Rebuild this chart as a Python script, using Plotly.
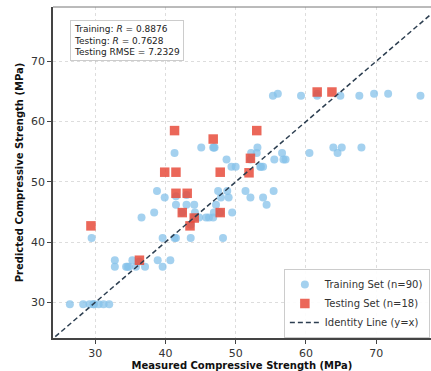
import plotly.graph_objects as go

# Training set (measured, predicted)
train_measured = [
    26.4, 28.3, 29.2, 29.8, 30.5, 31.2, 32.0,
    32.8, 35.3, 38.9, 40.7,
    32.8, 34.4, 34.8, 35.8, 37.1, 39.6,
    29.5, 39.6, 41.3, 41.5, 43.6, 48.2,
    36.6, 38.4,
    44.8, 45.8, 46.2, 46.8,
    44.2, 46.9, 49.5,
    41.5, 43.0, 44.1, 47.2, 54.4,
    39.9, 47.9, 49.0, 52.1, 53.9,
    38.8, 47.5, 48.8, 51.4, 55.4,
    49.4, 50.0, 53.5, 53.9,
    48.7, 55.5, 56.8, 57.1,
    41.3, 52.2, 53.0, 56.6, 60.5, 64.5,
    45.1, 46.8, 47.0, 53.1, 63.9, 65.1, 67.9,
    55.3, 56.0, 59.3, 61.6, 64.9, 67.6, 69.7, 71.7, 76.3,
    41.5, 43.0, 47.8, 52.1, 36.3, 44.1, 42.4, 43.6, 61.6,
    29.8, 34.6, 53.6, 46.9,
]
train_predicted = [
    29.7, 29.7, 29.7, 29.7, 29.7, 29.7, 29.7,
    37.0, 37.0, 37.0, 37.0,
    35.9, 35.9, 35.9, 35.9, 35.9, 35.9,
    40.7, 40.7, 40.7, 40.7, 40.7, 40.7,
    44.1, 44.9,
    44.1, 44.1, 44.1, 44.1,
    44.9, 44.9, 44.9,
    46.2, 46.2, 46.2, 46.2, 46.2,
    47.4, 47.4, 47.4, 47.4, 47.4,
    48.5, 48.5, 48.5, 48.5, 48.5,
    52.5, 52.5, 52.5, 52.5,
    53.7, 53.7, 53.7, 53.7,
    54.8, 54.8, 54.8, 54.8, 54.8, 54.8,
    55.7, 55.7, 55.7, 55.7, 55.7, 55.7, 55.7,
    64.3, 64.6, 64.3, 64.3, 64.3, 64.3, 64.6, 64.6, 64.3,
    47.6, 47.8, 44.9, 53.7, 36.8, 44.1, 44.9, 42.9, 64.6,
    29.7, 35.9, 52.5, 55.7,
]

# Testing set (measured, predicted)
test_measured = [29.4, 36.3, 41.3, 46.8, 39.9, 41.5, 47.8, 41.5, 43.1,
                 42.4, 44.1, 43.5, 47.8, 53.0, 52.1, 51.9, 61.6, 63.7]
test_predicted = [42.7, 37.0, 58.5, 57.1, 51.6, 51.6, 51.6, 48.1, 48.1,
                  44.9, 44.0, 42.7, 44.9, 58.5, 53.9, 51.5, 64.9, 64.9]

identity = [20, 85]
tick_vals = [30, 40, 50, 60, 70]
stats_text = ("Training: <i>R</i> = 0.8876<br>"
              "Testing: <i>R</i> = 0.7628<br>"
              "Testing RMSE = 7.2329")

font_family = "DejaVu Sans"

fig = go.Figure()
fig.add_trace(go.Scatter(
    x=train_measured, y=train_predicted, mode="markers",
    name="Training Set (n=90)",
    marker=dict(color="#85C1E9", size=8, opacity=0.75, symbol="circle",
                line=dict(width=0)),
))
fig.add_trace(go.Scatter(
    x=test_measured, y=test_predicted, mode="markers",
    name="Testing Set (n=18)",
    marker=dict(color="#E74C3C", size=9.5, opacity=0.85, symbol="square",
                line=dict(width=0)),
))
fig.add_trace(go.Scatter(
    x=identity, y=identity, mode="lines",
    name="Identity Line (y=x)",
    line=dict(color="#2C3E50", width=1.5, dash="5px,3px"),
))

axis_common = dict(
    tickvals=tick_vals, ticks="outside", ticklen=4, tickwidth=1,
    tickcolor="#444", showline=True, linecolor="#444", linewidth=1.6,
    showgrid=True, gridcolor="rgba(170,170,170,0.4)", griddash="dot",
    gridwidth=0.8, zeroline=False,
    tickfont=dict(family=font_family, size=11, color="#333"),
)

fig.update_xaxes(range=[24.0, 77.8],
                 title=dict(text="<b>Measured Compressive Strength (MPa)</b>",
                            font=dict(family=font_family, size=10, color="#111"),
                            standoff=4),
                 **axis_common)
fig.update_yaxes(range=[24.1, 79.0],
                 title=dict(text="<b>Predicted Compressive Strength (MPa)</b>",
                            font=dict(family=font_family, size=10, color="#111"),
                            standoff=6),
                 **axis_common)

fig.add_shape(type="line", xref="paper", yref="paper", x0=0, x1=1, y0=1, y1=1,
              line=dict(color="#777", width=1))

fig.add_annotation(
    xref="paper", yref="paper", x=0.045, y=0.962, xanchor="left", yanchor="top",
    text=stats_text, showarrow=False, align="left",
    font=dict(family=font_family, size=9, color="#222"),
    bgcolor="rgba(255,255,255,0.9)", bordercolor="#ccc", borderwidth=1,
    borderpad=3,
)

fig.update_layout(
    width=431, height=371,
    margin=dict(l=53, r=0, t=7, b=33),
    paper_bgcolor="white", plot_bgcolor="white",
    font=dict(family=font_family, color="#333"),
    legend=dict(x=0.997, y=0.0, xanchor="right", yanchor="bottom",
                bgcolor="rgba(255,255,255,0.9)", bordercolor="#ccc",
                borderwidth=1, font=dict(family=font_family, size=10, color="#333"),
                itemwidth=30, tracegroupgap=0),
    showlegend=True,
)

fig.write_html("out.html")
